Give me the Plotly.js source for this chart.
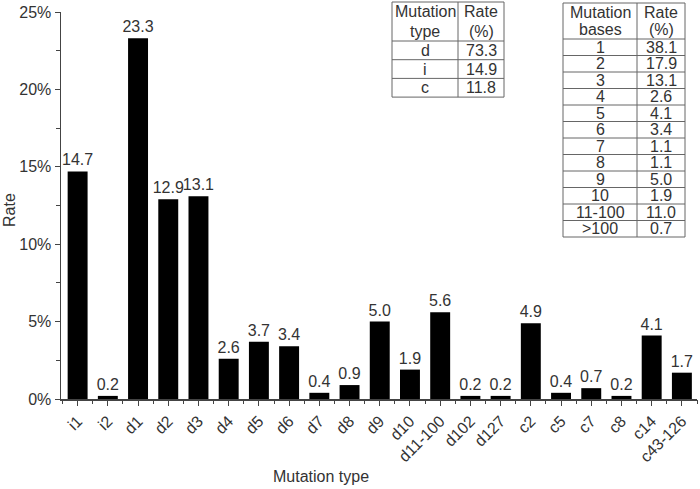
<!DOCTYPE html>
<html>
<head>
<meta charset="utf-8">
<script src="https://cdn.plot.ly/plotly-3.0.1.min.js"></script>
<style>html,body{margin:0;padding:0;background:#fff;}#chart{width:700px;height:489px;}</style>
</head>
<body>
<div id="chart"></div>
<script>
// ---- data ----
const categories = ["i1","i2","d1","d2","d3","d4","d5","d6","d7","d8","d9","d10","d11-100","d102","d127","c2","c5","c7","c8","c14","c43-126"];
const rates = [14.7,0.2,23.3,12.9,13.1,2.6,3.7,3.4,0.4,0.9,5.0,1.9,5.6,0.2,0.2,4.9,0.4,0.7,0.2,4.1,1.7];

const typeHeader = ["Mutation", "type"];
const typeRateHeader = ["Rate", "(%)"];
const typeLabels = ["d","i","c"];
const typeRates = ["73.3","14.9","11.8"];

const basesHeader = ["Mutation", "bases"];
const basesRateHeader = ["Rate", "(%)"];
const basesLabels = ["1","2","3","4","5","6","7","8","9","10","11-100",">100"];
const basesRates = ["38.1","17.9","13.1","2.6","4.1","3.4","1.1","1.1","5.0","1.9","11.0","0.7"];

// ---- layout helpers ----
const W = 700, H = 489;
const M = {l: 61, r: 3, t: 12, b: 90};
const PW = W - M.l - M.r, PH = H - M.t - M.b;
const px = x => (x - M.l) / PW;
const py = y => (H - M.b - y) / PH;
const FONT = "Liberation Sans, Arial, sans-serif";
const TXT = "#333";
const LINE = "#666";

const shapes = [];
const annotations = [];

function addTable(x0, xm, x1, yTop, yHead, rowH, hdrL, hdrR, colL, colR) {
  const nRows = colL.length;
  const yBot = yHead + rowH * nRows;
  shapes.push({type: "rect", xref: "paper", yref: "paper", x0: px(x0), x1: px(x1), y0: py(yBot), y1: py(yTop), line: {color: LINE, width: 1}, fillcolor: "#fff", layer: "above"});
  shapes.push({type: "line", xref: "paper", yref: "paper", x0: px(xm), x1: px(xm), y0: py(yBot), y1: py(yTop), line: {color: LINE, width: 1}, layer: "above"});
  for (let i = 0; i < nRows; i++) {
    const y = yHead + rowH * i;
    shapes.push({type: "line", xref: "paper", yref: "paper", x0: px(x0), x1: px(x1), y0: py(y), y1: py(y), line: {color: LINE, width: 1}, layer: "above"});
  }
  const cL = (x0 + xm) / 2, cR = (xm + x1) / 2;
  const hh = (yHead - yTop) / 2;
  [0, 1].forEach(k => {
    const yc = yTop + hh * (k + 0.5);
    annotations.push({xref: "paper", yref: "paper", x: px(cL), y: py(yc), text: hdrL[k], showarrow: false, xanchor: "center", yanchor: "middle", font: {family: FONT, size: 16, color: TXT}});
    annotations.push({xref: "paper", yref: "paper", x: px(cR), y: py(yc), text: hdrR[k], showarrow: false, xanchor: "center", yanchor: "middle", font: {family: FONT, size: 16, color: TXT}});
  });
  for (let i = 0; i < nRows; i++) {
    const yc = yHead + rowH * (i + 0.5);
    annotations.push({xref: "paper", yref: "paper", x: px(cL), y: py(yc), text: colL[i], showarrow: false, xanchor: "center", yanchor: "middle", font: {family: FONT, size: 16, color: TXT}});
    annotations.push({xref: "paper", yref: "paper", x: px(cR), y: py(yc), text: colR[i], showarrow: false, xanchor: "center", yanchor: "middle", font: {family: FONT, size: 16, color: TXT}});
  }
}

addTable(392, 458, 504, 2, 41, 18.7, typeHeader, typeRateHeader, typeLabels, typeRates);
addTable(563, 637, 685, 3, 39, 16.5, basesHeader, basesRateHeader, basesLabels, basesRates);

annotations.push({xref: "paper", yref: "paper", x: px(321), y: py(476), text: "Mutation type", showarrow: false, xanchor: "center", yanchor: "middle", font: {family: FONT, size: 16, color: TXT}});
annotations.push({xref: "paper", yref: "paper", x: px(9), y: py(210), text: "Rate", textangle: -90, showarrow: false, xanchor: "center", yanchor: "middle", font: {family: FONT, size: 16, color: TXT}});

const traces = [
  {
    type: "bar", x: categories, y: rates,
    text: rates.map(v => v.toFixed(1)), textposition: "outside", cliponaxis: false,
    constraintext: "none",
    textfont: {family: FONT, size: 16, color: TXT},
    marker: {color: "#000", line: {width: 0}}, width: 0.66, hoverinfo: "skip"
  },
  {
    type: "scatter", mode: "markers", x: categories, y: rates.map(() => 0),
    xaxis: "x2", yaxis: "y", marker: {opacity: 0}, hoverinfo: "skip", showlegend: false
  }
];

const layout = {
  width: W, height: H,
  margin: M,
  paper_bgcolor: "#fff", plot_bgcolor: "#fff",
  showlegend: false,
  font: {family: FONT, size: 16, color: TXT},
  xaxis: {
    type: "category", categoryorder: "array", categoryarray: categories,
    range: [-0.55, categories.length - 0.5],
    showline: true, linecolor: "#444", linewidth: 1.5,
    ticks: "outside", ticklen: 5, tickcolor: "#444", tickwidth: 1,
    tickangle: -45, tickfont: {family: FONT, size: 16, color: TXT},
    showgrid: false, zeroline: false, fixedrange: true
  },
  xaxis2: {
    type: "category", overlaying: "x", matches: "x", side: "bottom",
    categoryorder: "array", categoryarray: categories,
    tickson: "boundaries", ticks: "outside", ticklen: 4, tickcolor: "#444", tickwidth: 1,
    showticklabels: false, showline: false, showgrid: false, zeroline: false
  },
  yaxis: {
    range: [0, 25], dtick: 5, ticksuffix: "%",
    showline: true, linecolor: "#444", linewidth: 1.5,
    ticks: "outside", ticklen: 5, tickcolor: "#444", tickwidth: 1,
    minor: {dtick: 2.5, ticks: "outside", ticklen: 4, tickcolor: "#444", showgrid: false},
    tickfont: {family: FONT, size: 16, color: TXT},
    showgrid: false, zeroline: false, fixedrange: true
  },
  shapes: shapes,
  annotations: annotations
};

Plotly.newPlot("chart", traces, layout, {displayModeBar: false, staticPlot: true});
</script>
</body>
</html>
